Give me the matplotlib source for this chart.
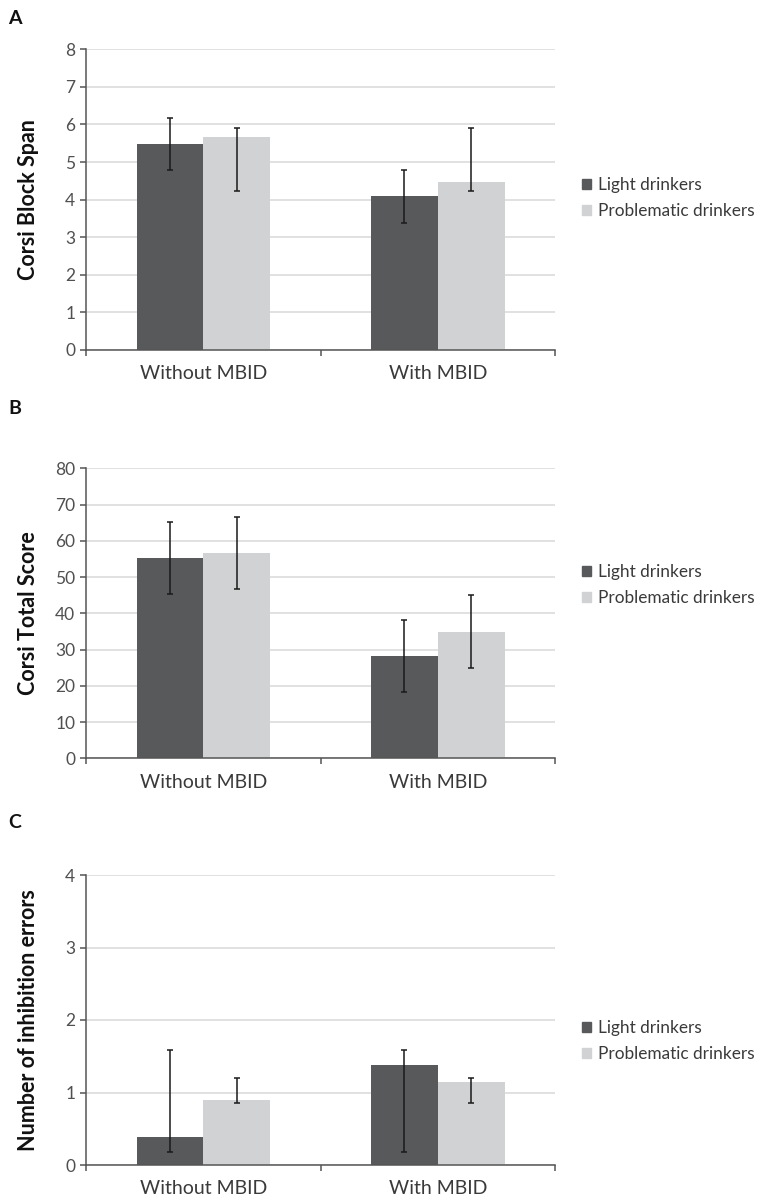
import numpy as np
import matplotlib
matplotlib.use("Agg")
import matplotlib.pyplot as plt
from matplotlib.patches import Patch

categories = ["Without MBID", "With MBID"]
groups = ["Light drinkers", "Problematic drinkers"]

# panel A: Corsi Block Span (mean, lower end of bar, upper end of bar)
span_light = [5.49, 4.09]
span_light_lo = [4.78, 3.38]
span_light_hi = [6.18, 4.78]
span_prob = [5.66, 4.48]
span_prob_lo = [4.23, 4.23]
span_prob_hi = [5.91, 5.91]

# panel B: Corsi Total Score
total_light = [55.3, 28.1]
total_light_lo = [45.4, 18.2]
total_light_hi = [65.3, 38.1]
total_prob = [56.6, 34.9]
total_prob_lo = [46.6, 25.0]
total_prob_hi = [66.6, 45.0]

# panel C: number of inhibition errors
inhib_light = [0.38, 1.38]
inhib_light_lo = [0.18, 0.18]
inhib_light_hi = [1.59, 1.59]
inhib_prob = [0.89, 1.14]
inhib_prob_lo = [0.85, 0.85]
inhib_prob_hi = [1.20, 1.20]

DARK = "#58595b"
LIGHT = "#d1d2d4"
GRID = "#dcdcdc"
AXC = "#555555"
TXT = "#3a3a3a"

plt.rcParams.update({"font.family": ["Lato", "DejaVu Sans"]})

W, H = 758, 1203
fig = plt.figure(figsize=(W / 100, H / 100), dpi=100)


def panel(top_px, bot_px, letter, letter_y, ylabel, ymax, step, light, llo, lhi,
          prob, plo, phi, leg_y):
    ax = fig.add_axes([86.3 / W, 1 - bot_px / H, 468.7 / W, (bot_px - top_px) / H])
    x = np.arange(len(categories))
    bw = 0.285
    for vals, lo, hi, col, off in [(light, llo, lhi, DARK, -bw / 2),
                                   (prob, plo, phi, LIGHT, bw / 2)]:
        vals = np.array(vals); lo = np.array(lo); hi = np.array(hi)
        ax.bar(x + off, vals, bw, color=col, zorder=2)
        ax.errorbar(x + off, vals, yerr=[vals - lo, hi - vals], fmt="none",
                    ecolor="#1a1a1a", elinewidth=1.1, capsize=2.5, capthick=1.1, zorder=3)
    ax.set_xlim(-0.5, 1.5)
    ax.set_ylim(0, ymax)
    ax.set_yticks(np.arange(0, ymax + step / 2, step))
    ax.yaxis.grid(True, color=GRID, lw=1.2, zorder=0)
    ax.set_axisbelow(True)
    for s in ["top", "right"]:
        ax.spines[s].set_visible(False)
    for s in ["left", "bottom"]:
        ax.spines[s].set_color(AXC)
        ax.spines[s].set_linewidth(1.1)
    ax.set_xticks(x)
    ax.set_xticklabels(categories, fontsize=14, color=TXT)
    ax.tick_params(axis="x", length=0, pad=11)
    ax.set_xticks([-0.5, 0.5, 1.5], minor=True)
    ax.tick_params(axis="x", which="minor", length=4, color=AXC, width=1.1)
    ax.tick_params(axis="y", length=4, color=AXC, width=1.1, labelsize=12.5,
                   labelcolor="#505050", pad=4)
    ax.set_ylabel(ylabel, fontsize=15.5, fontweight="bold", color="#111111")
    ax.yaxis.set_label_coords(-0.10, 0.5)
    fig.text(8 / W, 1 - letter_y / H, letter, fontsize=14, fontweight="bold",
             va="center", ha="left", color="#111111")
    handles = [Patch(color=DARK), Patch(color=LIGHT)]
    fig.legend(handles, groups, loc="center left",
               bbox_to_anchor=(566 / W, 1 - leg_y / H), frameon=False,
               fontsize=12.4, handlelength=0.55, handleheight=0.55,
               handletextpad=0.4, labelspacing=0.6, labelcolor=TXT)


panel(49.3, 350, "A", 18, "Corsi Block Span", 8, 1,
      span_light, span_light_lo, span_light_hi, span_prob, span_prob_lo, span_prob_hi, 198)
panel(468.3, 758.3, "B", 408, "Corsi Total Score", 80, 10,
      total_light, total_light_lo, total_light_hi, total_prob, total_prob_lo, total_prob_hi, 585)
panel(875, 1165, "C", 822, "Number of inhibition errors", 4, 1,
      inhib_light, inhib_light_lo, inhib_light_hi, inhib_prob, inhib_prob_lo, inhib_prob_hi, 1041)

fig.savefig("out.png", dpi=100)
